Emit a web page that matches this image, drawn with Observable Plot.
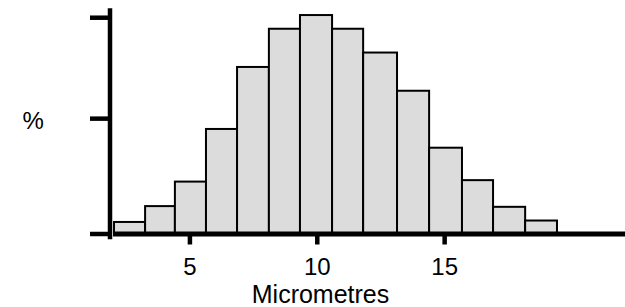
<!DOCTYPE html>
<html>
<head>
<meta charset="utf-8">
<script src="https://cdn.jsdelivr.net/npm/d3@7"></script>
<script src="https://cdn.jsdelivr.net/npm/@observablehq/plot@0.6"></script>
<style>
  html, body { margin: 0; padding: 0; background: #fff; }
  #chart { width: 625px; height: 307px; }
</style>
</head>
<body>
<div id="chart"></div>
<script>
// Histogram bins (micrometres)
const binStart = [2.04, 3.26, 4.43, 5.65, 6.87, 8.12, 9.34, 10.60, 11.82, 13.15, 14.41, 15.70, 16.92, 18.18];
const binEnd   = [3.26, 4.43, 5.65, 6.87, 8.12, 9.34, 10.60, 11.82, 13.15, 14.41, 15.70, 16.92, 18.18, 19.43];
// Percent per bin
const percent  = [0.8, 1.9, 3.6, 7.25, 11.55, 14.2, 15.15, 14.2, 12.55, 9.9, 5.95, 3.7, 1.85, 0.9];
// Axis ticks
const xTicks = [5, 10, 15];
const yTicks = [0, 8, 15];
const xLabel = "Micrometres";
const yLabel = "%";

const bins = binStart.map((s, i) => ({x1: s, x2: binEnd[i], y: percent[i]}));

const chart = Plot.plot({
  width: 625,
  height: 307,
  marginLeft: 113,
  marginRight: 0,
  marginTop: 10,
  marginBottom: 73.5,
  style: {fontFamily: "'Liberation Sans', Arial, sans-serif", color: "#000", background: "#fff"},
  x: {domain: [2, 22.1], axis: null},
  y: {domain: [0, 15.5], axis: null},
  marks: [
    Plot.rectY(bins, {x1: "x1", x2: "x2", y: "y", fill: "#dcdcdc", stroke: "#000", strokeWidth: 2, inset: 0}),
    Plot.ruleY([0], {stroke: "#000", strokeWidth: 5}),
    Plot.frame({anchor: "left", dx: -3.5, stroke: "#000", strokeWidth: 4.5, insetBottom: -3}),
    Plot.axisY({ticks: yTicks, tickSize: 18, dx: -5, stroke: "#000", strokeWidth: 4.5, tickFormat: () => "", label: null}),
    Plot.axisX({ticks: xTicks, tickSize: 11, tickPadding: 12.5, stroke: "#000", strokeWidth: 4.5, fontSize: 24, label: null}),
    Plot.text([xLabel], {frameAnchor: "bottom", lineAnchor: "top", dx: -49, dy: 51, fontSize: 25, fill: "#000"}),
    Plot.text([yLabel], {frameAnchor: "left", lineAnchor: "middle", dx: -91, dy: -1, fontSize: 24, fill: "#000"})
  ]
});
document.getElementById("chart").appendChild(chart);
</script>
</body>
</html>
